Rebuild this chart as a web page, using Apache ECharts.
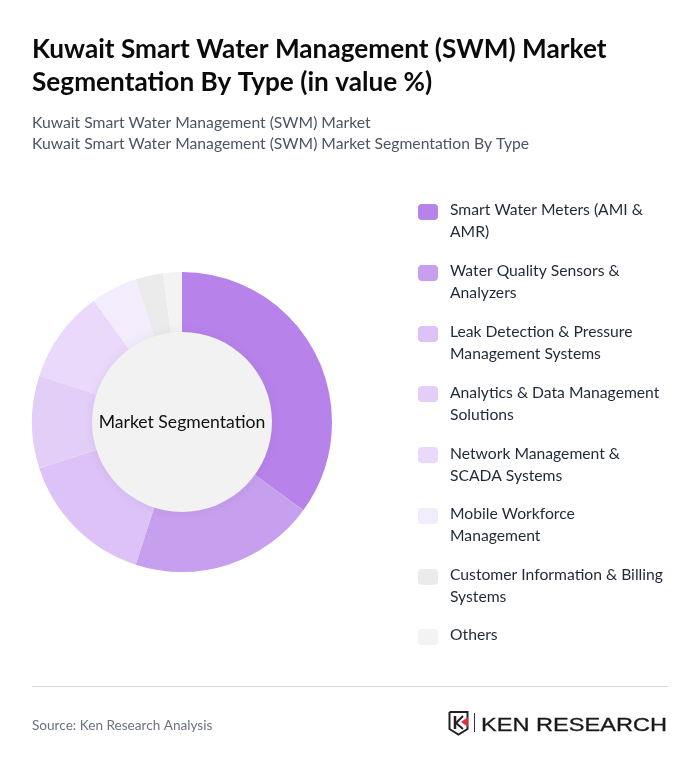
<!DOCTYPE html>
<html>
<head>
<meta charset="utf-8">
<title>Kuwait SWM Market Segmentation</title>
<script src="https://cdn.jsdelivr.net/npm/echarts@6/dist/echarts.min.js"></script>
<style>
html, body { margin: 0; padding: 0; background: #fff; }
#main { width: 700px; height: 771px; }
</style>
</head>
<body>
<div id="main"></div>
<script>
var titleText = "Kuwait Smart Water Management (SWM) Market\nSegmentation By Type (in value %)";
var subText = "Kuwait Smart Water Management (SWM) Market\nKuwait Smart Water Management (SWM) Market Segmentation By Type";
var centerText = "Market Segmentation";
var sourceText = "Source: Ken Research Analysis";
var logoText = "KEN RESEARCH";

var categories = [
    "Smart Water Meters (AMI &\nAMR)",
    "Water Quality Sensors &\nAnalyzers",
    "Leak Detection & Pressure\nManagement Systems",
    "Analytics & Data Management\nSolutions",
    "Network Management &\nSCADA Systems",
    "Mobile Workforce\nManagement",
    "Customer Information & Billing\nSystems",
    "Others"
];
var shares = [35, 20, 15, 10, 10, 5, 3, 2];
var colors = ["#b783eb", "#c69fef", "#dcc2f6", "#e3cef8", "#ead9fa", "#f3ecfc", "#ebebeb", "#f3f3f3"];

var font = "Lato";
var chart = echarts.init(document.getElementById("main"), null, { renderer: "canvas" });

// pie data
var pieData = [];
for (var i = 0; i < categories.length; i++) {
    pieData.push({
        name: categories[i].replace("\n", " "),
        value: shares[i],
        itemStyle: { color: colors[i] }
    });
}

// legend, drawn by hand because swatches sit on the first text line
var graphics = [];
for (var i = 0; i < categories.length; i++) {
    var rowY = 204 + i * 60.8;
    graphics.push({
        type: "rect",
        shape: { x: 418, y: Math.round(rowY) - (i == 7 ? 1 : 0), width: 20, height: 16, r: 4 },
        style: { fill: colors[i] }
    });
    graphics.push({
        type: "text",
        x: 450,
        y: rowY - 4.6 - (i == 7 ? 1 : 0),
        style: {
            text: categories[i],
            font: "15.7px " + font,
            lineHeight: 22,
            fill: "#1f2937",
            textVerticalAlign: "top"
        }
    });
}

// divider and footer
graphics.push({
    type: "line",
    shape: { x1: 32, y1: 686.5, x2: 668, y2: 686.5 },
    style: { stroke: "#d5d8e0", lineWidth: 1 }
});
graphics.push({
    type: "text",
    x: 32,
    y: 719,
    style: { text: sourceText, font: "13.6px " + font, fill: "#6b7280" }
});

// logo
graphics.push({
    type: "polyline",
    shape: { points: [[449.5, 712], [467.5, 712], [467.5, 729], [458.5, 734.5], [449.5, 729], [449.5, 712]] },
    style: { stroke: "#222", fill: "#fff", lineWidth: 2 }
});
graphics.push({
    type: "polyline",
    shape: { points: [[455, 716], [455, 729]] },
    style: { stroke: "#222", lineWidth: 2.5 }
});
graphics.push({
    type: "polyline",
    shape: { points: [[463, 716], [456, 723], [463, 729]] },
    style: { stroke: "#222", fill: "none", lineWidth: 2 }
});
graphics.push({
    type: "polygon",
    shape: { points: [[468, 717], [468, 727], [461, 722]] },
    style: { fill: "#d9333f" }
});
graphics.push({
    type: "line",
    shape: { x1: 474.5, y1: 713, x2: 474.5, y2: 732 },
    style: { stroke: "#333", lineWidth: 1 }
});
graphics.push({
    type: "text",
    x: 481,
    y: 717,
    scaleX: 1.31,
    style: { text: logoText, font: "18px 'Liberation Sans'", fill: "#1a1a1a", stroke: "#1a1a1a", lineWidth: 0.3 }
});

var option = {
    animation: false,
    backgroundColor: "#fff",
    title: [
        {
            text: titleText,
            left: 27,
            top: 28,
            textStyle: { fontFamily: font, fontSize: 26.2, fontWeight: "bold", color: "#0b0b0b", lineHeight: 33 }
        },
        {
            text: subText,
            left: 27,
            top: 107,
            textStyle: { fontFamily: font, fontSize: 15.7, fontWeight: "normal", color: "#4b5563", lineHeight: 21 }
        }
    ],
    series: [
        {
            type: "pie",
            silent: true,
            center: [182, 422],
            radius: [89, 150],
            startAngle: 90,
            clockwise: true,
            label: { show: false },
            labelLine: { show: false },
            data: pieData
        },
        {
            type: "pie",
            silent: true,
            center: [182, 422],
            radius: [0, 90],
            z: 3,
            label: {
                show: true,
                position: "center",
                formatter: centerText,
                fontFamily: font,
                fontSize: 17.6,
                color: "#111"
            },
            labelLine: { show: false },
            itemStyle: { color: "#f2f2f2", shadowBlur: 12, shadowColor: "rgba(0,0,0,0.06)" },
            data: [{ name: centerText, value: 1 }]
        }
    ],
    graphic: graphics
};
chart.setOption(option);
</script>
</body>
</html>
